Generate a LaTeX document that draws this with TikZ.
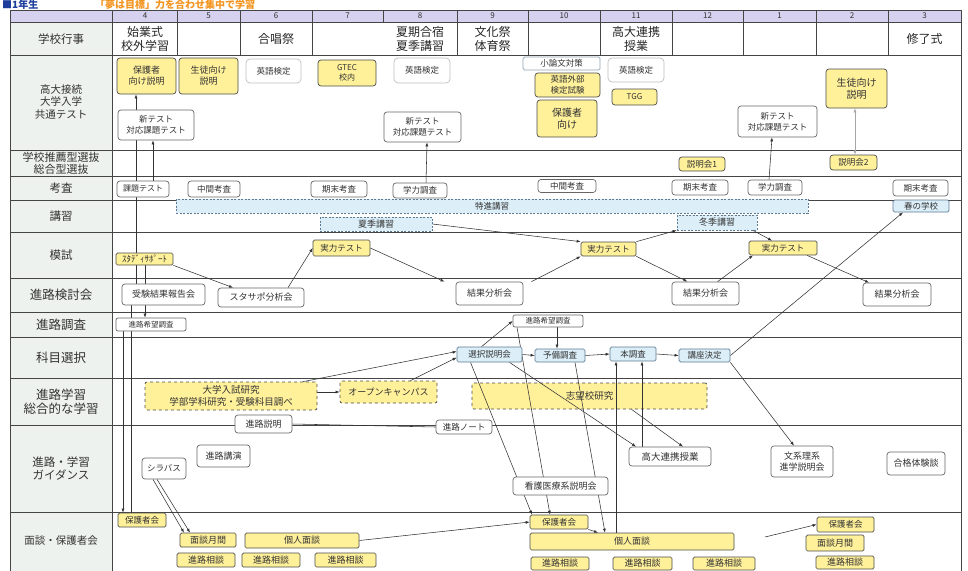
\documentclass[tikz,border=0pt]{standalone}
\usepackage{fontspec}
\setmainfont{Noto Sans CJK JP}
\usetikzlibrary{arrows.meta,calc,positioning}
\pgfdeclarelayer{bg}
\pgfdeclarelayer{mid}
\pgfdeclarelayer{wires}
\pgfsetlayers{bg,mid,wires,main}

\definecolor{ink}{HTML}{333333}
\definecolor{rule}{HTML}{454545}
\definecolor{yel}{HTML}{FFF09A}
\definecolor{lblue}{HTML}{DCEFF9}
\definecolor{bluerim}{HTML}{5E7A92}
\definecolor{side}{HTML}{EDF2EE}
\definecolor{lav}{HTML}{D5D1EE}
\definecolor{ttlblue}{HTML}{1C3C9C}
\definecolor{ttlorange}{HTML}{F39420}

\tikzset{
	x=1pt, y=-1pt,
	sz/.style 2 args={font=\fontsize{#1}{#2}\selectfont},
	wh/.style 2 args={minimum width=#1pt, minimum height=#2pt},
	wbox/.style={draw=black!60, fill=white, rounded corners=3pt, inner sep=0pt, align=center, text=ink, line width=0.7pt, sz={8.5}{10.5}},
	ybox/.style={wbox, fill=yel, draw=black!70},
	gbox/.style={wbox, draw=black!25, rounded corners=4pt},
	lbbox/.style={wbox, fill=lblue, draw=bluerim, rounded corners=1.5pt},
	ydbox/.style={ybox, dashed, rounded corners=2pt},
	bdbox/.style={lbbox, dash pattern=on 2pt off 1.5pt, rounded corners=0pt},
	lab/.style={text=ink, align=center, sz={11.5}{13}},
	ev/.style={text=black!85, align=center, sz={12}{14}},
	mon/.style={text=ink, sz={8}{9}},
	conn/.style={-{Latex[length=4pt,width=3pt]}, draw=black!80, line width=0.55pt},
	tie/.style={draw=black!80, line width=0.55pt},
	tbl/.style={draw=rule, line width=0.9pt}
}

\begin{document}
\begin{tikzpicture}
	\useasboundingbox (0,0) rectangle (968,570);

	% title
	\node[anchor=base west, text=ttlblue, sz={10}{10}, inner sep=0pt] (ttl1) at (2,8.8) {\bfseries ■1年生};
	\node[anchor=base west, text=ttlorange, sz={10}{10}, inner sep=0pt] (ttl2) at (95,8.8) {\bfseries 「夢は目標」力を合わせ集中で学習};

	% table
	\begin{pgfonlayer}{bg}
		\fill[side] (10,22) rectangle (112,575);
		\fill[lav] (10,10) rectangle (961,22);
		\foreach \yy in {22,55,150,176,200,232,278,312,337,378,425,512}
			\draw[tbl] (10,\yy) -- (961,\yy);
		\draw[tbl] (10,575) -- (10,10) -- (961,10) -- (961,575);
		\draw[tbl] (112,10) -- (112,575);
		\foreach \xx in {177,240,312,383,457,528,600,672,743,816,888}
			\draw[tbl] (\xx,10) -- (\xx,22);
		\foreach \xx in {177,240,312,457,528,600,672,743,816,888}
			\draw[tbl] (\xx,22) -- (\xx,55);
		\foreach \cx/\m in {145/4, 208.5/5, 276/6, 347.5/7, 420/8, 492.5/9, 564/10, 636/11, 707.5/12, 779.5/1, 852/2, 924.5/3}
			\node[mon] (m\m) at (\cx,16) {\m};
	\end{pgfonlayer}

	% row labels
	\node[lab] (rl1) at (61,39) {学校行事};
	\node[lab, sz={10.5}{12.5}] (rl2) at (61,102) {高大接続\\大学入学\\共通テスト};
	\node[lab, sz={11}{12}] (rl3) at (61,163) {学校推薦型選抜\\総合型選抜};
	\node[lab] (rl4) at (61,188) {考査};
	\node[lab] (rl5) at (61,216) {講習};
	\node[lab] (rl6) at (61,255) {模試};
	\node[lab, sz={12.5}{14}] (rl7) at (61,295) {進路検討会};
	\node[lab, sz={12.5}{14}] (rl8) at (61,324.5) {進路調査};
	\node[lab, sz={12.5}{14}] (rl9) at (61,357.5) {科目選択};
	\node[lab, sz={12.5}{14}] (rl10) at (61,401.5) {進路学習\\総合的な学習};
	\node[lab] (rl11) at (61,468.5) {進路・学習\\ガイダンス};
	\node[lab, sz={10.5}{12}] (rl12) at (61,541) {面談・保護者会};

	% school events
	\node[ev] (ev4) at (145,39) {始業式\\校外学習};
	\node[ev] (ev6) at (276,39) {合唱祭};
	\node[ev] (ev7) at (420,39) {夏期合宿\\夏季講習};
	\node[ev] (ev9) at (492.5,39) {文化祭\\体育祭};
	\node[ev] (ev11) at (636,39) {高大連携\\授業};
	\node[ev] (ev3) at (924.5,39) {修了式};

	% high school - university
	\node[ybox, wh={59}{36}, sz={9}{11}] (hogo1) at (146.5,76) {保護者\\向け説明};
	\node[ybox, wh={59}{36}, sz={9}{11}] (seito1) at (208.5,76) {生徒向け\\説明};
	\node[gbox, wh={55}{24}] (eiken1) at (273.5,71) {英語検定};
	\node[ybox, wh={58}{26}, sz={8}{10}] (gtec) at (347,73) {GTEC\\校内};
	\node[gbox, wh={56}{25}] (eiken2) at (422,70.5) {英語検定};
	\node[wbox, wh={76}{30}, sz={8.5}{11}] (shintest1) at (156,125) {新テスト\\対応課題テスト};
	\node[wbox, wh={77}{30}, sz={8.5}{11}] (shintest2) at (422.5,127) {新テスト\\対応課題テスト};
	\node[wbox, wh={77}{13}, draw=bluerim!70, rounded corners=1.5pt] (shoron) at (561.5,63.5) {小論文対策};
	\node[ybox, wh={65}{24}, sz={8.5}{10.5}] (gaibu) at (567.5,85) {英語外部\\検定試験};
	\node[ybox, wh={60}{37}, sz={10}{12}] (hogo2) at (567,118.5) {保護者\\向け};
	\node[gbox, wh={56}{24}] (eiken3) at (636,70) {英語検定};
	\node[ybox, wh={45}{16}, sz={8}{10}] (tgg) at (634.5,97) {TGG};
	\node[wbox, wh={79}{31}, sz={8.5}{11}] (shintest3) at (777.5,121.5) {新テスト\\対応課題テスト};
	\node[ybox, wh={61}{39}, sz={10}{12}] (seito2) at (856.5,88.5) {生徒向け\\説明};

	% recommendation
	\node[ybox, wh={46}{14}] (setsu1) at (702,164) {説明会1};
	\node[ybox, wh={47}{15}] (setsu2) at (853.5,162.5) {説明会2};

	% exams
	\node[wbox, wh={52}{16}, sz={8}{10}] (kadai) at (143,189) {課題テスト};
	\node[wbox, wh={52}{16}] (chukan1) at (214,189) {中間考査};
	\node[wbox, wh={56}{16}] (kimatsu1) at (339,189) {期末考査};
	\node[wbox, wh={54}{15}] (gakuryoku1) at (420,190.5) {学力調査};
	\node[wbox, wh={58}{13}] (chukan2) at (567,186) {中間考査};
	\node[wbox, wh={56}{15}] (kimatsu2) at (700,187.5) {期末考査};
	\node[wbox, wh={54}{15}] (gakuryoku2) at (775,187.5) {学力調査};
	\node[wbox, wh={55}{16}] (kimatsu3) at (920.5,188) {期末考査};

	% lectures
	\node[bdbox, wh={632}{14}] (tokushin) at (492,206) {特進講習};
	\node[bdbox, wh={112}{14}, sz={9}{11}] (kaki) at (376,224) {夏季講習};
	\node[bdbox, wh={80}{15}, sz={9}{11}] (toki) at (717,222.5) {冬季講習};
	\node[lbbox, wh={56}{12}] (haru) at (921,206) {春の学校};

	% mock exams
	\node[ybox, wh={57}{12}, sz={9}{10}, rounded corners=1.5pt] (stsp) at (144.5,259) {ｽﾀﾃﾞｨｻﾎﾟｰﾄ};
	\node[ybox, wh={57}{16}, rounded corners=1.5pt] (jitsu1) at (341.5,248) {実力テスト};
	\node[ybox, wh={55}{14}, rounded corners=1.5pt] (jitsu2) at (608.5,249) {実力テスト};
	\node[ybox, wh={68}{14}, rounded corners=1.5pt] (jitsu3) at (783,248) {実力テスト};

	% review meetings
	\node[wbox, wh={83}{21}, sz={9}{11}] (juken) at (163.5,294.5) {受験結果報告会};
	\node[wbox, wh={86}{19}, sz={9}{11}] (stspbun) at (261,297.5) {スタサポ分析会};
	\node[wbox, wh={67}{23}, sz={9}{11}] (kekka1) at (489.5,293.5) {結果分析会};
	\node[wbox, wh={67}{23}, sz={9}{11}] (kekka2) at (705.5,293.5) {結果分析会};
	\node[wbox, wh={68}{23}, sz={9}{11}] (kekka3) at (897,294.5) {結果分析会};

	% surveys
	\node[wbox, wh={70}{13}, sz={7.5}{9}, rounded corners=2pt] (kibou1) at (151,324.5) {進路希望調査};
	\node[wbox, wh={70}{12}, sz={7.5}{9}, rounded corners=2pt] (kibou2) at (548,321) {進路希望調査};

	% subject choice
	\node[lbbox, wh={65}{15}] (sentaku) at (489.5,354.5) {選択説明会};
	\node[lbbox, wh={50}{13}] (yobi) at (560,355.5) {予備調査};
	\node[lbbox, wh={46}{14}] (hon) at (633,354) {本調査};
	\node[lbbox, wh={51}{13}] (kouza) at (704.5,355.5) {講座決定};

	% career study
	\node[ydbox, wh={172}{28}, sz={9.5}{12}] (nyushi) at (231,396) {大学入試研究\\学部学科研究・受験科目調べ};
	\node[ydbox, wh={97}{22}, sz={9}{11}] (open) at (388.5,392) {オープンキャンパス};
	\begin{pgfonlayer}{mid}
		\node[ydbox, wh={235}{26}, sz={9.5}{11}] (shibou) at (589.5,396) {志望校研究};
	\end{pgfonlayer}

	% guidance
	\node[wbox, wh={57}{18}, sz={9}{11}] (setsumei) at (263.5,424) {進路説明};
	\node[wbox, wh={56}{14}, sz={8.5}{10}] (note) at (464,427) {進路ノート};
	\node[wbox, wh={53}{22}, sz={9}{11}] (koen) at (223.5,456) {進路講演};
	\node[wbox, wh={44}{21}, sz={8.5}{10}] (syllabus) at (164,468.5) {シラバス};
	\node[wbox, wh={82}{19}, sz={9.5}{11}] (kodai) at (670,456.5) {高大連携授業};
	\node[wbox, wh={95}{18}, sz={9}{11}] (kango) at (560.5,486) {看護医療系説明会};
	\node[wbox, wh={62}{31}, sz={9}{11}] (bunri) at (802,461.5) {文系理系\\進学説明会};
	\node[wbox, wh={58}{23}, sz={9}{11}] (goukaku) at (916,463.5) {合格体験談};

	% interviews
	\node[ybox, wh={48}{14}, rounded corners=1.5pt] (hogokai1) at (142,520) {保護者会};
	\node[ybox, wh={56}{14}, rounded corners=1.5pt, sz={9}{10}] (mendan1) at (208,540) {面談月間};
	\node[ybox, wh={58}{14}, rounded corners=1.5pt, sz={9}{10}] (soudan1) at (206,560) {進路相談};
	\node[ybox, wh={114}{15}, rounded corners=1.5pt, sz={9}{10}] (kojin1) at (302,540.5) {個人面談};
	\node[ybox, wh={58}{14}, rounded corners=1.5pt, sz={9}{10}] (soudan2) at (271,560) {進路相談};
	\node[ybox, wh={61}{14}, rounded corners=1.5pt, sz={9}{10}] (soudan3) at (345.5,560) {進路相談};
	\node[ybox, wh={58}{14}, rounded corners=1.5pt] (hogokai2) at (559,522) {保護者会};
	\node[ybox, wh={204}{17}, rounded corners=1.5pt, sz={9}{10}] (kojin2) at (632,541.5) {個人面談};
	\node[ybox, wh={58}{13}, rounded corners=1.5pt, sz={9}{10}] (soudan4) at (560,563.5) {進路相談};
	\node[ybox, wh={59}{13}, rounded corners=1.5pt, sz={9}{10}] (soudan5) at (642.5,563.5) {進路相談};
	\node[ybox, wh={62}{13}, rounded corners=1.5pt, sz={9}{10}] (soudan6) at (724,563.5) {進路相談};
	\node[ybox, wh={57}{15}, rounded corners=1.5pt] (hogokai3) at (845.5,524.5) {保護者会};
	\node[ybox, wh={58}{16}, rounded corners=1.5pt, sz={9}{10}] (mendan2) at (835,543) {面談月間};
	\node[ybox, wh={58}{13}, rounded corners=1.5pt, sz={9}{10}] (soudan7) at (845,562.5) {進路相談};

	\coordinate (k2tail) at (765,537);

	% connectors
	\begin{pgfonlayer}{wires}
		\draw[conn] ([xshift=-20pt]shintest1.north) -- ([xshift=-10.5pt]hogo1.south);
		\draw[conn] ([xshift=10pt]kadai.north) -- ([xshift=-3pt]shintest1.south);
		\draw[tie] ([xshift=-20pt]shintest1.south) -- ([xshift=-27.5pt]juken.north);
		\draw[conn] ([xshift=0.5pt]stsp.south) -- ([xshift=-6pt]kibou1.north);
		\draw[conn] ([xshift=-28pt]kibou1.south) -- ([xshift=-19pt]hogokai1.north);
		\draw[tie] ([xshift=-32.5pt]juken.south) -- ([xshift=-11pt]hogokai1.north);
		\draw[conn] ([xshift=6pt]gakuryoku1.north) -- ([xshift=4.5pt]shintest2.south);
		\draw[conn] ([xshift=-6pt]gakuryoku2.north) -- ([xshift=-5.5pt]shintest3.south);
		\draw[conn, {Latex[length=4pt,width=3pt]}-{Latex[length=4pt,width=3pt]}, draw=black!35] ([xshift=1.5pt]setsu2.north) -- ([xshift=-1.5pt]seito2.south);

		\draw[conn] (stsp.south east) -- ([xshift=-28pt]stspbun.north);
		\draw[conn] ([xshift=27pt]stspbun.north) -- (jitsu1.west);
		\draw[conn] (jitsu1.east) -- ([xshift=-45pt]kekka1.north);
		\draw[conn] ([xshift=42pt]kekka1.north) -- (jitsu2.south west);
		\draw[conn] (kaki.east) -- (jitsu2.north west);
		\draw[conn] (jitsu2.north east) -- (toki.south west);
		\draw[conn] (jitsu2.south east) -- ([xshift=-18pt]kekka2.north);
		\draw[conn] ([xshift=36pt]toki.south) -- ([xshift=-11pt]jitsu3.north);
		\draw[conn] ([xshift=12pt]kekka2.north) -- ([xshift=-30pt]jitsu3.south);
		\draw[conn] ([xshift=24pt]jitsu3.south) -- ([xshift=-28pt]kekka3.north);

		\draw[conn] (kouza.east) -- ([xshift=-18pt]haru.south);
		\draw[conn] (kouza.south east) -- ([xshift=-8pt]bunri.north);
		\draw[conn] ([xshift=-8pt]sentaku.north) -- (kibou2.west);
		\draw[conn] ([xshift=9pt]kibou2.south) -- ([xshift=-3pt]yobi.north);
		\draw[conn] (sentaku.east) -- (yobi.west);
		\draw[conn] (yobi.east) -- (hon.west);
		\draw[conn] (hon.east) -- (kouza.west);
		\draw[conn] ([xshift=72pt]nyushi.north) -- ([yshift=3pt]sentaku.west);
		\draw[conn] ([xshift=22pt]open.north) -- ([yshift=-3pt]sentaku.west);
		\draw[conn] (nyushi.east |- open.west) -- (open.west);

		\draw[conn] ([xshift=-19pt]sentaku.south) -- ([xshift=-27pt]hogokai2.north);
		\draw[conn] ([xshift=-31pt]kibou2.south) -- ([xshift=-9pt]hogokai2.north);
		\draw[conn] ([xshift=20pt]sentaku.south) -- ([xshift=-34pt]kodai.north);
		\draw[conn] ([xshift=42pt]shibou.south) -- ([xshift=13pt]kodai.north);
		\draw[conn] ([xshift=15pt]yobi.south) -- ([xshift=-27pt]kojin2.north);
		\draw[conn] ([xshift=-16pt]kojin2.north) -- ([xshift=-17pt]hon.south);
		\draw[conn] ([xshift=-28pt]kodai.north) -- ([xshift=9pt]hon.south);

		\draw[tie] (setsumei.east) -- (note.west);
		\draw[conn] ([xshift=-7pt]syllabus.south) -- ([xshift=-18pt]mendan1.north);
		\draw[conn] ([xshift=-11pt]syllabus.south) -- ([xshift=-24pt]mendan1.north);
		\draw[conn] (kojin1.east) -- (hogokai2.west);
		\draw[conn] (hogokai2.south east) -- ([xshift=-34pt]kojin2.north);
		\draw[conn] (k2tail) -- (hogokai3.west);
	\end{pgfonlayer}
\end{tikzpicture}
\end{document}
